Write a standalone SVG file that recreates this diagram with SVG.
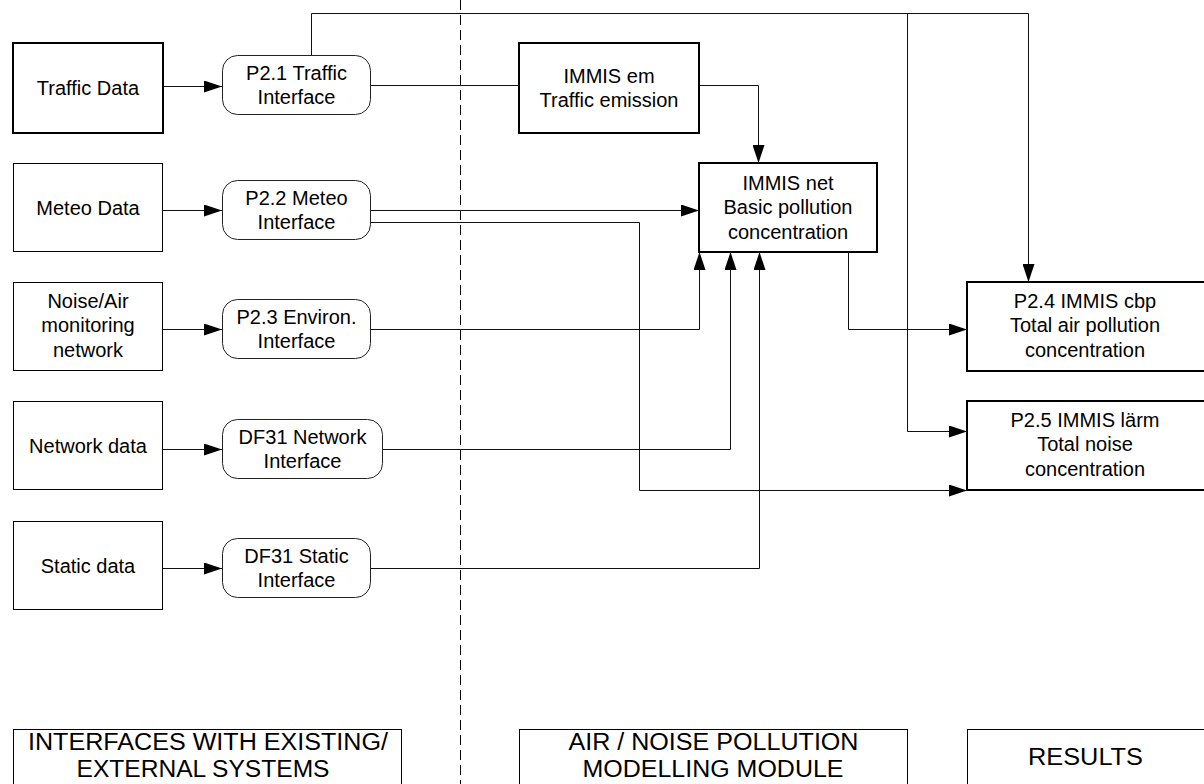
<svg xmlns="http://www.w3.org/2000/svg" width="1204" height="784" viewBox="0 0 1204 784">
<style>
  text { font-family: "Liberation Sans", Arial, sans-serif; font-size: 20px; fill: #000; text-anchor: middle; }
  .leg { font-size: 23px; }
  .box { fill: #fff; stroke: #000; stroke-width: 1; }
  .thick { fill: #fff; stroke: #000; stroke-width: 2; }
  .ifc { fill: #fff; stroke: #222; stroke-width: 1; }
  .con { fill: none; stroke: #111; stroke-width: 1; }
  .arr { fill: none; stroke: #111; stroke-width: 1; marker-end: url(#ah); }
  .dash { fill: none; stroke: #000; stroke-width: 1; stroke-dasharray: 10 5; }
</style>
<defs>
  <marker id="ah" markerUnits="userSpaceOnUse" markerWidth="18" markerHeight="12" refX="18" refY="6" orient="auto">
    <path d="M0,0 L18,6 L0,12 z" fill="#000"/>
  </marker>
</defs>
<rect width="1204" height="784" fill="#fff"/>

<line class="dash" x1="460.5" y1="0" x2="460.5" y2="784"/>

<g id="connectors">
  <path class="arr" d="M163,86.5 H222"/>
  <path class="arr" d="M163,210.5 H222"/>
  <path class="arr" d="M163,329.5 H222"/>
  <path class="arr" d="M163,449.5 H222"/>
  <path class="arr" d="M163,568.5 H222"/>
  <path class="con" d="M371,85.5 H519"/>
  <path class="arr" d="M699,85.5 H758.5 V163"/>
  <path class="arr" d="M311.5,55 V13.5 H1028.5 V282"/>
  <path class="arr" d="M907.5,13.5 V431.5 H967"/>
  <path class="arr" d="M371,210.5 H699"/>
  <path class="arr" d="M371,222.5 H639.5 V490.5 H967"/>
  <path class="arr" d="M371,329.5 H699.5 V252"/>
  <path class="arr" d="M383,449.5 H730.5 V252"/>
  <path class="arr" d="M371,568.5 H759.5 V252"/>
  <path class="arr" d="M848.5,252 V329.5 H967"/>
</g>

<g id="traffic-data">
  <rect class="thick" x="13" y="43" width="150" height="90"/>
  <text x="88" y="95">Traffic Data</text>
</g>
<g id="meteo-data">
  <rect class="box" x="13.5" y="163.5" width="149" height="88"/>
  <text x="88" y="214.5">Meteo Data</text>
</g>
<g id="noise-air">
  <rect class="box" x="13.5" y="282.5" width="149" height="88"/>
  <text x="88" y="308">Noise/Air</text>
  <text x="88" y="332">monitoring</text>
  <text x="88" y="356.5">network</text>
</g>
<g id="network-data">
  <rect class="box" x="13.5" y="401.5" width="149" height="88"/>
  <text x="88" y="452.5">Network data</text>
</g>
<g id="static-data">
  <rect class="box" x="13.5" y="521.5" width="149" height="88"/>
  <text x="88" y="572.5">Static data</text>
</g>

<g id="p21">
  <rect class="ifc" x="222.5" y="55.5" width="148" height="59" rx="15"/>
  <text x="296.5" y="80">P2.1 Traffic</text>
  <text x="296.5" y="104">Interface</text>
</g>
<g id="p22">
  <rect class="ifc" x="222.5" y="180.5" width="148" height="59" rx="15"/>
  <text x="296.5" y="205">P2.2 Meteo</text>
  <text x="296.5" y="229">Interface</text>
</g>
<g id="p23">
  <rect class="ifc" x="222.5" y="299.5" width="148" height="59" rx="15"/>
  <text x="296.5" y="324">P2.3 Environ.</text>
  <text x="296.5" y="348">Interface</text>
</g>
<g id="df31-network">
  <rect class="ifc" x="222.5" y="419.5" width="160" height="59" rx="15"/>
  <text x="302.5" y="444">DF31 Network</text>
  <text x="302.5" y="468">Interface</text>
</g>
<g id="df31-static">
  <rect class="ifc" x="222.5" y="538.5" width="148" height="59" rx="15"/>
  <text x="296.5" y="563">DF31 Static</text>
  <text x="296.5" y="587">Interface</text>
</g>

<g id="immis-em">
  <rect class="thick" x="519" y="43" width="180" height="90"/>
  <text x="609" y="83">IMMIS em</text>
  <text x="609" y="107">Traffic emission</text>
</g>
<g id="immis-net">
  <rect class="thick" x="699" y="163" width="178" height="89"/>
  <text x="788" y="189.5">IMMIS net</text>
  <text x="788" y="214">Basic pollution</text>
  <text x="788" y="238.5">concentration</text>
</g>
<g id="p24">
  <rect class="thick" x="967" y="282" width="240" height="89"/>
  <text x="1085" y="308">P2.4 IMMIS cbp</text>
  <text x="1085" y="332">Total air pollution</text>
  <text x="1085" y="356.5">concentration</text>
</g>
<g id="p25">
  <rect class="thick" x="967" y="401" width="240" height="89"/>
  <text x="1085" y="427">P2.5 IMMIS lärm</text>
  <text x="1085" y="451">Total noise</text>
  <text x="1085" y="475.5">concentration</text>
</g>

<g id="legend-interfaces">
  <rect class="box" x="13.5" y="729.5" width="388" height="70"/>
  <text class="leg" x="208" y="750" textLength="360" lengthAdjust="spacingAndGlyphs">INTERFACES WITH EXISTING/</text>
  <text class="leg" x="203" y="777" textLength="253" lengthAdjust="spacingAndGlyphs">EXTERNAL SYSTEMS</text>
</g>
<g id="legend-module">
  <rect class="box" x="519.5" y="729.5" width="388" height="70"/>
  <text class="leg" x="713.5" y="750" textLength="290" lengthAdjust="spacingAndGlyphs">AIR / NOISE POLLUTION</text>
  <text class="leg" x="713" y="777" textLength="261" lengthAdjust="spacingAndGlyphs">MODELLING MODULE</text>
</g>
<g id="legend-results">
  <rect class="box" x="967.5" y="729.5" width="250" height="70"/>
  <text class="leg" x="1085.5" y="765" textLength="115" lengthAdjust="spacingAndGlyphs">RESULTS</text>
</g>
</svg>
